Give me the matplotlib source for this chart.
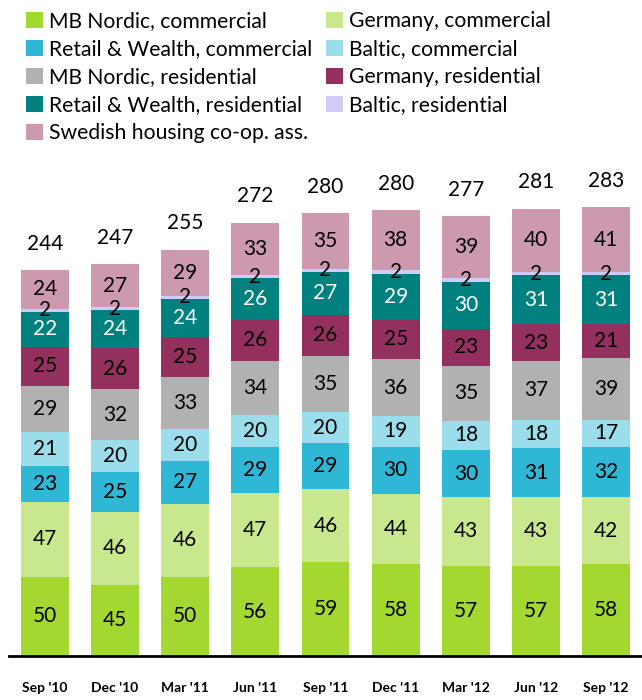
import matplotlib
matplotlib.use("Agg")
import matplotlib.pyplot as plt
import numpy as np

categories = ["Sep '10", "Dec '10", "Mar '11", "Jun '11", "Sep '11", "Dec '11", "Mar '12", "Jun '12", "Sep '12"]
series_names = ["MB Nordic, commercial", "Germany, commercial", "Retail & Wealth, commercial",
                "Baltic, commercial", "MB Nordic, residential", "Germany, residential",
                "Retail & Wealth, residential", "Baltic, residential", "Swedish housing co-op. ass."]
mb_nordic_com = [50, 45, 50, 56, 59, 58, 57, 57, 58]
germany_com = [47, 46, 46, 47, 46, 44, 43, 43, 42]
rw_com = [23, 25, 27, 29, 29, 30, 30, 31, 32]
baltic_com = [21, 20, 20, 20, 20, 19, 18, 18, 17]
mb_nordic_res = [29, 32, 33, 34, 35, 36, 35, 37, 39]
germany_res = [25, 26, 25, 26, 26, 25, 23, 23, 21]
rw_res = [22, 24, 24, 26, 27, 29, 30, 31, 31]
baltic_res = [2, 2, 2, 2, 2, 2, 2, 2, 2]
swedish_coop = [24, 27, 29, 33, 35, 38, 39, 40, 41]
totals = [244, 247, 255, 272, 280, 280, 277, 281, 283]

series = [mb_nordic_com, germany_com, rw_com, baltic_com, mb_nordic_res,
          germany_res, rw_res, baltic_res, swedish_coop]
colors = ["#A3D831", "#C9E88D", "#2FB8D6", "#9BDDEA", "#B1B1B1",
          "#93305E", "#00807F", "#CFCCF7", "#CC99AF"]
label_colors = ["black"] * 6 + ["white", "black", "black"]

font = ["Lato", "DejaVu Sans"]
plt.rcParams['font.family'] = font

fig = plt.figure(figsize=(6.42, 7.0), dpi=100)
ax = fig.add_axes([9 / 642, 44 / 700, 633 / 642, 476 / 700])

x = np.arange(len(categories))
bottom = np.zeros(len(categories))
handles = []
for vals, col, lc, name in zip(series, colors, label_colors, series_names):
    v = np.array(vals, dtype=float)
    b = ax.bar(x, v, 0.68, bottom=bottom, color=col, label=name, linewidth=0)
    handles.append(b)
    for xi, vi, bi in zip(x, v, bottom):
        ax.text(xi, bi + vi / 2, f"{int(vi)}", ha="center", va="center",
                fontsize=15, color=lc)
    bottom = bottom + v

for xi, top, t in zip(x, bottom, totals):
    ax.annotate(f"{t}", (xi, top), xytext=(0, 19), textcoords="offset points",
                ha="center", va="center", fontsize=15, annotation_clip=False)

ax.set_xlim(-0.51, 8.51)
ax.set_ylim(0, 300)
ax.set_yticks([])
ax.set_xticks(x)
ax.set_xticklabels(categories, fontsize=10, fontweight="bold")
ax.tick_params(axis="x", length=0, pad=19)
for s in ["top", "right", "left"]:
    ax.spines[s].set_visible(False)
ax.spines["bottom"].set_linewidth(2)

order = [0, 2, 4, 6, 8, 1, 3, 5, 7]
leg = fig.legend([handles[i] for i in order], [series_names[i] for i in order],
                 ncol=2, loc="upper left", bbox_to_anchor=(26 / 642, 1 - 11 / 700),
                 frameon=False, fontsize=15.2, handlelength=0.8, handleheight=0.8,
                 handletextpad=0.3, columnspacing=0.65, labelspacing=0.38,
                 borderaxespad=0, borderpad=0)

fig.savefig("out.png", dpi=100)
